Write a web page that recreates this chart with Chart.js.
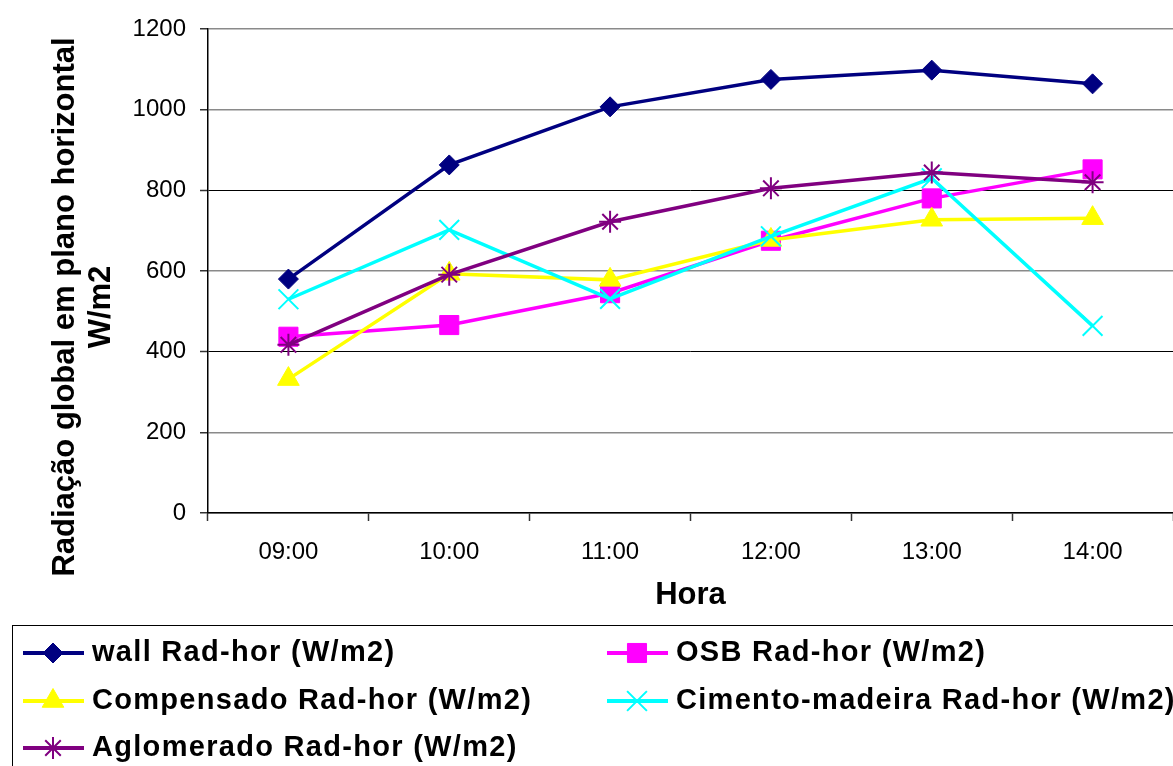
<!DOCTYPE html>
<html>
<head>
<meta charset="utf-8">
<script src="https://cdn.jsdelivr.net/npm/chart.js@4/dist/chart.umd.min.js"></script>
<style>
  html, body { margin: 0; padding: 0; background: #fff; overflow: hidden; }
  #wrap { width: 1173px; height: 766px; }
</style>
</head>
<body>
<div id="wrap"><canvas id="myChart" width="1173" height="766"></canvas></div>
<script>
// values
const horas = ['09:00', '10:00', '11:00', '12:00', '13:00', '14:00'];
const wallRad = [580, 863, 1007, 1075, 1098, 1064];
const osbRad = [437, 466, 545, 675, 780, 852];
const compensadoRad = [332, 593, 578, 677, 727, 731];
const cimentoRad = [530, 702, 531, 686, 830, 464];
const aglomeradoRad = [417, 591, 722, 805, 844, 820];
const yTicks = [0, 200, 400, 600, 800, 1000, 1200];

const FONT = '"Liberation Sans", Arial, sans-serif';

function serie(label, data, color, style, radius, order) {
  const open = style === 'crossRot' || style === 'star';
  return {
    label: label,
    data: data,
    borderColor: color,
    backgroundColor: color,
    borderWidth: 3.5,
    pointStyle: style,
    pointRadius: radius,
    pointHoverRadius: radius,
    pointBackgroundColor: color,
    pointBorderColor: color,
    pointBorderWidth: open ? 2 : 1,
    tension: 0,
    clip: false,
    order: order
  };
}

const datasets = [
  serie('wall Rad-hor (W/m2)', wallRad, '#000080', 'rectRot', 10, 5),
  serie('OSB Rad-hor (W/m2)', osbRad, '#ff00ff', 'rect', 13.5, 4),
  serie('Compensado Rad-hor (W/m2)', compensadoRad, '#ffff00', 'triangle', 12.5, 3),
  serie('Cimento-madeira Rad-hor (W/m2)', cimentoRad, '#00ffff', 'crossRot', 14, 2),
  serie('Aglomerado Rad-hor (W/m2)', aglomeradoRad, '#800080', 'star', 11, 1)
];

// legend box at the bottom, two columns like the original
const legendBox = {
  id: 'legendBox',
  afterDraw(chart) {
    const ctx = chart.ctx;
    ctx.save();
    ctx.strokeStyle = '#000';
    ctx.lineWidth = 1;
    ctx.strokeRect(12.5, 625.5, 1200, 200);
    const cols = [23, 607];
    const rows = [653, 701, 748];
    datasets.forEach((ds, i) => {
      const x = cols[i % 2];
      const y = rows[Math.floor(i / 2)];
      ctx.strokeStyle = ds.borderColor;
      ctx.lineWidth = 4;
      ctx.beginPath();
      ctx.moveTo(x, y);
      ctx.lineTo(x + 61, y);
      ctx.stroke();
      ctx.fillStyle = ds.pointBackgroundColor;
      ctx.strokeStyle = ds.pointBorderColor;
      ctx.lineWidth = ds.pointBorderWidth;
      Chart.helpers.drawPoint(ctx, {
        pointStyle: ds.pointStyle,
        radius: ds.pointRadius,
        borderWidth: ds.pointBorderWidth,
        rotation: 0
      }, x + 30, y);
      ctx.fillStyle = '#000';
      ctx.font = 'bold 29px ' + FONT;
      ctx.letterSpacing = '1.3px';
      ctx.textBaseline = 'middle';
      ctx.textAlign = 'left';
      ctx.fillText(ds.label, x + 69, y);
    });
    ctx.restore();
  }
};

// rotated two-line title of the value axis
const yTitle = {
  id: 'yTitle',
  afterDraw(chart) {
    const ctx = chart.ctx;
    ctx.save();
    ctx.font = 'bold 31px ' + FONT;
    ctx.fillStyle = '#000';
    ctx.textAlign = 'center';
    ctx.textBaseline = 'middle';
    ctx.translate(65, 307);
    ctx.rotate(-Math.PI / 2);
    ctx.fillText('Radiação global em plano horizontal', 0, 0);
    ctx.fillText('W/m2', 0, 36);
    ctx.restore();
  }
};

new Chart(document.getElementById('myChart'), {
  type: 'line',
  data: { labels: horas, datasets: datasets },
  plugins: [legendBox, yTitle],
  options: {
    responsive: false,
    animation: false,
    devicePixelRatio: 1,
    layout: { autoPadding: false, padding: { top: 29, right: -7, bottom: 151, left: 0 } },
    plugins: {
      legend: { display: false },
      tooltip: { enabled: false }
    },
    scales: {
      x: {
        offset: true,
        grid: {
          display: true,
          offset: true,
          drawOnChartArea: false,
          drawTicks: true,
          tickLength: 8,
          tickColor: '#333',
          tickWidth: 1.5
        },
        border: { color: '#000', width: 1.5 },
        ticks: {
          color: '#000',
          padding: 17,
          font: { family: FONT, size: 24 }
        },
        title: {
          display: true,
          text: 'Hora',
          color: '#000',
          font: { family: FONT, size: 31, weight: 'bold', lineHeight: 1 },
          padding: { top: 0, bottom: 4 }
        },
        afterFit(scale) {
          scale.height = 102;
          scale.paddingLeft = 0;
          scale.paddingRight = 0;
        }
      },
      y: {
        min: 0,
        max: 1200,
        afterBuildTicks(scale) { scale.ticks = yTicks.map(v => ({ value: v })); },
        grid: {
          color: c => (c.tick && (c.tick.value === 400 || c.tick.value === 800)) ? '#000' : '#8a8a8a',
          lineWidth: c => (c.tick && (c.tick.value === 400 || c.tick.value === 800)) ? 1 : 1.5,
          tickLength: 8,
          tickColor: '#333',
          tickWidth: 1.5
        },
        border: { color: '#000', width: 1.5 },
        ticks: {
          color: '#000',
          padding: 14,
          font: { family: FONT, size: 24 },
          callback: v => String(v)
        },
        afterFit(scale) { scale.width = 208; }
      }
    }
  }
});
</script>
</body>
</html>
